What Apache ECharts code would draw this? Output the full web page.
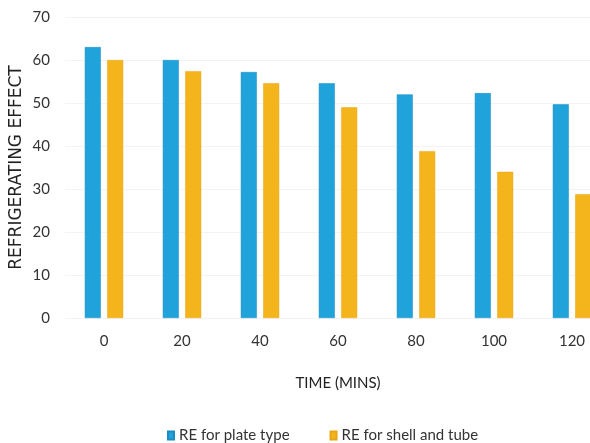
<!DOCTYPE html>
<html><head><meta charset="utf-8">
<script src="https://cdn.jsdelivr.net/npm/echarts@6/dist/echarts.min.js"></script>
<style>html,body{margin:0;padding:0;background:#fff}#c{width:590px;height:443px}</style>
</head><body><div id="c"></div>
<script>
const categories = ['0','20','40','60','80','100','120'];
const plateType = [63, 60, 57.2, 54.6, 52, 52.3, 49.7];
const shellTube = [60, 57.4, 54.6, 49, 38.8, 34, 28.8];
const yTicks = {min: 0, max: 70, interval: 10};

const font = 'Lato, "Open Sans", sans-serif';
const chart = echarts.init(document.getElementById('c'));
chart.setOption({
  backgroundColor: '#fff',
  textStyle: {fontFamily: font},
  grid: {left: 65, top: 17, right: -21, bottom: 125, outerBoundsMode: 'none', containLabel: false},
  legend: {
    top: 423, left: 162, itemWidth: 6, itemHeight: 8, itemGap: 40,
    icon: 'rect',
    textStyle: {fontFamily: font, fontSize: 15, color: '#333'},
    data: ['RE for plate type', 'RE for shell and tube']
  },
  xAxis: {
    type: 'category', data: categories,
    name: 'TIME (MINS)', nameLocation: 'middle', nameGap: 58,
    nameTextStyle: {fontFamily: font, fontSize: 15, color: '#222'},
    axisLine: {show: false}, axisTick: {show: false},
    axisLabel: {fontFamily: font, fontSize: 15, color: '#333', margin: 16}
  },
  yAxis: {
    type: 'value', min: yTicks.min, max: yTicks.max, interval: yTicks.interval,
    name: 'REFRIGERATING EFFECT', nameLocation: 'middle', nameGap: 40,
    nameMoveOverlap: false,
    nameTextStyle: {fontFamily: '"DejaVu Sans", sans-serif', fontSize: 17, color: '#222'},
    axisLine: {show: false}, axisTick: {show: false},
    axisLabel: {fontFamily: font, fontSize: 15, color: '#333', margin: 15},
    splitLine: {lineStyle: {color: '#f3f3f3'}}
  },
  series: [
    {name: 'RE for plate type', type: 'bar', data: plateType, barWidth: 16, barGap: '40%',
     itemStyle: {color: '#20a3da', borderColor: '#1a8cc2', borderWidth: 0.5}},
    {name: 'RE for shell and tube', type: 'bar', data: shellTube, barWidth: 16,
     itemStyle: {color: '#f4b41c', borderColor: '#e9a514', borderWidth: 0.5}}
  ]
});
</script></body></html>
